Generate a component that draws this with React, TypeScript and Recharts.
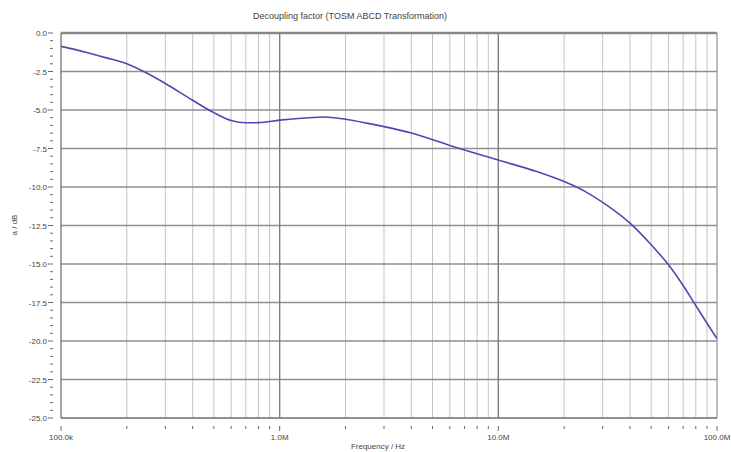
import React from "react";
import {
  LineChart,
  Line,
  XAxis,
  YAxis,
  CartesianGrid,
  ReferenceLine,
  Label,
} from "recharts";

const FREQ = [
  1e5, 1.3e5, 1.6e5, 2e5, 2.5e5, 3e5, 4e5, 5e5, 6e5, 7e5, 8e5, 1e6, 1.3e6,
  1.6e6, 2e6, 2.5e6, 3e6, 4e6, 6e6, 1e7, 1.5e7, 2e7, 2.5e7, 3e7, 4e7, 5e7,
  6e7, 7e7, 8e7, 9e7, 1e8,
];
const DECOUPLING = [
  -0.87, -1.25, -1.6, -2.0, -2.65, -3.28, -4.37, -5.17, -5.68, -5.83, -5.82,
  -5.66, -5.52, -5.45, -5.6, -5.85, -6.08, -6.5, -7.3, -8.25, -9.0, -9.65,
  -10.3, -11.0, -12.35, -13.75, -15.05, -16.4, -17.7, -18.85, -19.85,
];

const X_TICKS = [
  1e5, 2e5, 3e5, 4e5, 5e5, 6e5, 7e5, 8e5, 9e5, 1e6, 2e6, 3e6, 4e6, 5e6, 6e6,
  7e6, 8e6, 9e6, 1e7, 2e7, 3e7, 4e7, 5e7, 6e7, 7e7, 8e7, 9e7, 1e8,
];
const X_LABELS: Record<number, string> = {
  100000: "100.0k",
  1000000: "1.0M",
  10000000: "10.0M",
  100000000: "100.0M",
};
const Y_MAJOR = [0, -2.5, -5, -7.5, -10, -12.5, -15, -17.5, -20, -22.5, -25];
const Y_TICKS = [
  0, -0.5, -1, -1.5, -2, -2.5, -3, -3.5, -4, -4.5, -5, -5.5, -6, -6.5, -7,
  -7.5, -8, -8.5, -9, -9.5, -10, -10.5, -11, -11.5, -12, -12.5, -13, -13.5,
  -14, -14.5, -15, -15.5, -16, -16.5, -17, -17.5, -18, -18.5, -19, -19.5, -20,
  -20.5, -21, -21.5, -22, -22.5, -23, -23.5, -24, -24.5, -25,
];

const data = FREQ.map((f, i) => ({ f, a: DECOUPLING[i] }));

const FONT = "'Liberation Sans', Arial, sans-serif";
const TEXT = "#444";

function XTick(props: any) {
  const { x, y, payload } = props;
  const label = X_LABELS[payload.value];
  return (
    <g>
      <line x1={x} x2={x} y1={y} y2={y + (label ? 5 : 3)} stroke="#666" />
      {label && (
        <text
          x={x}
          y={y + 14}
          textAnchor="middle"
          fontSize={8}
          fill={TEXT}
          fontFamily={FONT}
        >
          {label}
        </text>
      )}
    </g>
  );
}

function YTick(props: any) {
  const { x, y, payload } = props;
  const major = Y_MAJOR.includes(payload.value);
  return (
    <g>
      <line x1={x - (major ? 5 : 3)} x2={x} y1={y} y2={y} stroke="#666" />
      {major && (
        <text
          x={x - 6}
          y={y + 3}
          textAnchor="end"
          fontSize={8}
          fill={TEXT}
          fontFamily={FONT}
        >
          {payload.value.toFixed(1)}
        </text>
      )}
    </g>
  );
}

export default function App() {
  return (
    <div
      style={{
        position: "absolute",
        left: 0,
        top: 0,
        width: 731,
        height: 452,
        background: "#fff",
      }}
    >
      <div
        style={{
          position: "absolute",
          top: 11,
          left: 0,
          width: 700,
          textAlign: "center",
          fontFamily: FONT,
          fontSize: 9,
          color: TEXT,
        }}
      >
        Decoupling factor (TOSM ABCD Transformation)
      </div>
      <LineChart
        width={731}
        height={452}
        data={data}
        margin={{ top: 33, right: 14, bottom: 0, left: 0 }}
      >
        <CartesianGrid horizontal={false} stroke="#c4c4c4" strokeWidth={1} />
        {Y_MAJOR.map((v) => (
          <ReferenceLine key={v} y={v} stroke="#8f8f8f" strokeWidth={1.4} />
        ))}
        <ReferenceLine x={1e6} stroke="#7a7a7a" strokeWidth={1.3} />
        <ReferenceLine x={1e7} stroke="#7a7a7a" strokeWidth={1.3} />
        <ReferenceLine x={1e8} stroke="#999" strokeWidth={1} />
        <ReferenceLine y={0} stroke="#888" strokeWidth={2.5} />
        <XAxis
          dataKey="f"
          type="number"
          scale="log"
          domain={[1e5, 1e8]}
          ticks={X_TICKS}
          interval={0}
          height={34}
          axisLine={{ stroke: "#777" }}
          tickLine={false}
          tick={<XTick />}
          allowDataOverflow
        >
          <Label
            content={() => (
              <text
                x={378}
                y={449}
                textAnchor="middle"
                fontSize={8}
                fill={TEXT}
                fontFamily={FONT}
              >
                Frequency / Hz
              </text>
            )}
          />
        </XAxis>
        <YAxis
          type="number"
          domain={[-25, 0]}
          ticks={Y_TICKS}
          interval={0}
          width={61}
          axisLine={{ stroke: "#666" }}
          tickLine={false}
          tick={<YTick />}
          allowDataOverflow
        >
          <Label
            content={() => (
              <text
                x={17}
                y={225}
                textAnchor="middle"
                fontSize={8}
                fill={TEXT}
                fontFamily={FONT}
                transform="rotate(-90 17 225)"
              >
                a / dB
              </text>
            )}
          />
        </YAxis>
        <Line
          type="monotone"
          dataKey="a"
          stroke="#4a4ab4"
          strokeWidth={1.6}
          dot={false}
          isAnimationActive={false}
        />
      </LineChart>
    </div>
  );
}
